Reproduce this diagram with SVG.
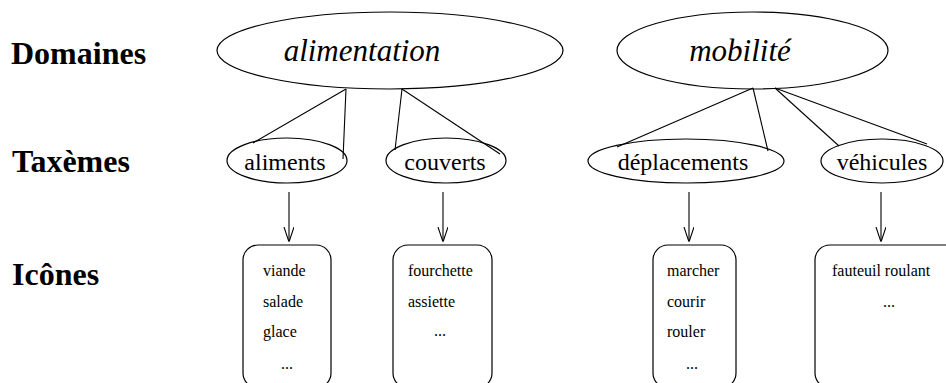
<svg xmlns="http://www.w3.org/2000/svg" width="946" height="383" viewBox="0 0 946 383">
<style>
.shape{fill:none;stroke:#000;stroke-width:1.2}
.lbl{font-family:"Liberation Serif",serif;font-weight:bold;font-size:32px;fill:#000}
.dom{font-family:"Liberation Serif",serif;font-style:italic;font-size:31px;fill:#000;text-anchor:middle}
.tax{font-family:"Liberation Serif",serif;font-size:24px;fill:#000;text-anchor:middle}
.ico{font-family:"Liberation Serif",serif;font-size:16px;fill:#000}
.mid{text-anchor:middle}
.con{fill:none;stroke:#000;stroke-width:1.1}
</style>
<defs>
<marker id="arr" markerUnits="userSpaceOnUse" markerWidth="14" markerHeight="18" refX="15" refY="5" orient="auto">
<path d="M0,0 L15,5 L0,10" fill="none" stroke="#000" stroke-width="1.1"/>
</marker>
</defs>
<rect width="946" height="383" fill="#fff"/>
<g id="labels">
<text class="lbl" x="11" y="64">Domaines</text>
<text class="lbl" x="12" y="172">Taxèmes</text>
<text class="lbl" x="12" y="285">Icônes</text>
</g>
<g id="connectors">
<line class="con" x1="346" y1="89" x2="253" y2="143"/>
<line class="con" x1="346" y1="89" x2="343" y2="159"/>
<line class="con" x1="402" y1="89" x2="395" y2="150"/>
<line class="con" x1="402" y1="89" x2="500" y2="154"/>
<line class="con" x1="753" y1="88" x2="617" y2="147"/>
<line class="con" x1="753" y1="88" x2="768" y2="151"/>
<line class="con" x1="775" y1="88" x2="839" y2="146"/>
<line class="con" x1="775" y1="88" x2="927" y2="144"/>
<line class="con" x1="289" y1="192" x2="289" y2="242" marker-end="url(#arr)"/>
<line class="con" x1="443" y1="192" x2="443" y2="242" marker-end="url(#arr)"/>
<line class="con" x1="689" y1="192" x2="689" y2="242" marker-end="url(#arr)"/>
<line class="con" x1="881" y1="192" x2="881" y2="242" marker-end="url(#arr)"/>
</g>
<g id="alimentation">
<ellipse class="shape" cx="390" cy="50.5" rx="173" ry="38.5"/>
<text class="dom" x="362" y="61">alimentation</text>
</g>
<g id="mobilite">
<ellipse class="shape" cx="752.5" cy="50.5" rx="135.5" ry="38.5"/>
<text class="dom" x="740" y="61">mobilité</text>
</g>
<g id="aliments">
<ellipse class="shape" cx="287" cy="160.5" rx="60" ry="22.5"/>
<text class="tax" x="285" y="170">aliments</text>
</g>
<g id="couverts">
<ellipse class="shape" cx="446" cy="160.5" rx="60" ry="22.5"/>
<text class="tax" x="445" y="170">couverts</text>
</g>
<g id="deplacements">
<ellipse class="shape" cx="686" cy="161" rx="98" ry="22"/>
<text class="tax" x="683" y="170">déplacements</text>
</g>
<g id="vehicules">
<ellipse class="shape" cx="882" cy="161" rx="61" ry="22"/>
<text class="tax" x="882" y="170">véhicules</text>
</g>
<g id="box-aliments">
<rect class="shape" x="243" y="245" width="88" height="143" rx="15" ry="15"/>
<text class="ico" x="263" y="276">viande</text>
<text class="ico" x="263" y="307">salade</text>
<text class="ico" x="263" y="337">glace</text>
<text class="ico mid" x="287" y="369">...</text>
</g>
<g id="box-couverts">
<rect class="shape" x="393" y="245" width="99" height="143" rx="15" ry="15"/>
<text class="ico" x="408" y="276">fourchette</text>
<text class="ico" x="408" y="307">assiette</text>
<text class="ico mid" x="440" y="336">...</text>
</g>
<g id="box-deplacements">
<rect class="shape" x="653" y="245" width="83" height="143" rx="15" ry="15"/>
<text class="ico" x="667" y="276">marcher</text>
<text class="ico" x="667" y="307">courir</text>
<text class="ico" x="667" y="337">rouler</text>
<text class="ico mid" x="692" y="369">...</text>
</g>
<g id="box-vehicules">
<rect class="shape" x="815" y="245" width="150" height="143" rx="15" ry="15"/>
<text class="ico" x="832" y="276">fauteuil roulant</text>
<text class="ico mid" x="889" y="307">...</text>
</g>
</svg>
